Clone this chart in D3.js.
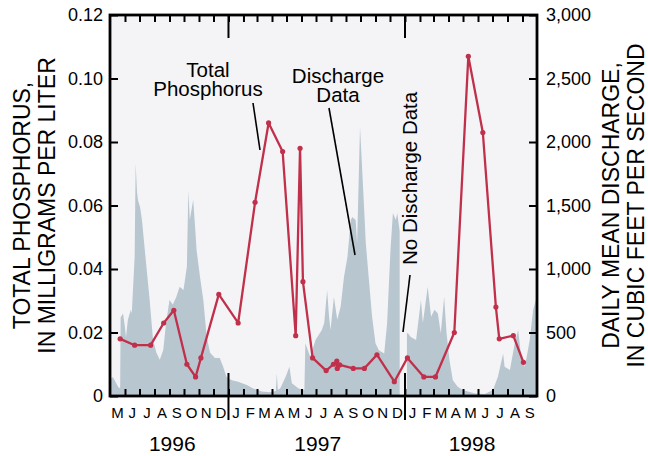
<!DOCTYPE html>
<html>
<head>
<meta charset="utf-8">
<script src="https://cdn.jsdelivr.net/npm/d3@7"></script>
<style>
  html, body { margin: 0; padding: 0; background: #ffffff; }
  svg { display: block; font-family: "Liberation Sans", Arial, Helvetica, sans-serif; }
</style>
</head>
<body>
<svg id="chart" width="648" height="456"></svg>
<script>
// ---- Data ---------------------------------------------------------------
// Daily mean discharge, cubic feet per second (null marks the data gap)
const dischargeDates = [
  "1996-05-01","1996-05-07","1996-05-18","1996-05-22","1996-05-23","1996-05-28","1996-06-01","1996-06-03",
  "1996-06-07","1996-06-13","1996-06-15","1996-06-21","1996-06-23","1996-06-26","1996-06-28","1996-07-02",
  "1996-07-06","1996-07-14","1996-07-22","1996-07-29","1996-08-05","1996-08-12","1996-08-19","1996-08-25",
  "1996-09-01","1996-09-08","1996-09-15","1996-09-22","1996-09-30","1996-10-07","1996-10-10","1996-10-13",
  "1996-10-20","1996-10-24","1996-10-27","1996-11-03","1996-11-10","1996-11-17","1996-11-24","1996-12-04",
  "1996-12-14","1996-12-21","1996-12-28","1997-01-08","1997-01-21","1997-02-08","1997-02-21","1997-03-11",
  "1997-03-28","1997-04-09","1997-04-11","1997-04-13","1997-04-18","1997-04-29","1997-05-07","1997-05-12",
  "1997-05-26","1997-06-07","1997-06-09","1997-06-19","1997-06-30","1997-07-13","1997-07-18","1997-07-24",
  "1997-07-28","1997-07-31","1997-08-07","1997-08-14","1997-08-21","1997-08-28","1997-09-04","1997-09-11",
  "1997-09-14","1997-09-21","1997-09-24","1997-09-30","1997-10-07","1997-10-12","1997-10-19","1997-10-25",
  "1997-11-01","1997-11-08","1997-11-19","1997-11-25","1997-12-02","1997-12-07","1997-12-13","1997-12-16",
  "1997-12-21","1997-12-22","1998-01-05","1998-01-07","1998-01-13","1998-01-24","1998-02-03","1998-02-07",
  "1998-02-17","1998-02-24","1998-03-03","1998-03-10","1998-03-16","1998-03-23","1998-03-28","1998-04-03",
  "1998-04-10","1998-04-20","1998-04-30","1998-05-26","1998-06-15","1998-07-02","1998-07-12","1998-07-23",
  "1998-07-26","1998-08-06","1998-08-16","1998-08-23","1998-08-30","1998-09-06","1998-09-16","1998-09-23",
  "1998-10-01"
];
const dischargeCfs = [
  130, 150, 70, 60, 620, 650, 540, 460,
  600, 680, 650, 1100, 1830, 1600, 1540, 1490,
  1390, 1070, 755, 440, 340, 285, 360, 575,
  755, 720, 780, 860, 835, 1020, 1620, 1385,
  1545, 1330, 1150, 940, 755, 465, 340, 300,
  300, 230, 150, 125, 113, 87, 60, 35,
  30, 40, 180, 50, 60, 150, 230, 100,
  60, 50, 415, 310, 440, 520, 575, 835,
  625, 520, 780, 600, 705, 940, 1095, 1385,
  1410, 1385, 1200, 2120, 1595, 1200, 890, 625,
  415, 360, 335, 570, 1150, 1440, 1385, 1440,
  1300, null, 495, 495, 465, 440, 755, 575,
  860, 625, 680, 650, 495, 780, 495, 283,
  125, 73, 47, 20, 15, 47, 150, 335,
  230, 205, 415, 520, 283, 230, 440, 680,
  790
];

// Total phosphorus, milligrams per liter
const tpDates = [
  "1996-05-22","1996-06-21","1996-07-24","1996-08-20","1996-09-10","1996-10-07","1996-10-25","1996-11-05",
  "1996-12-12","1997-01-21","1997-02-25","1997-03-25","1997-04-23","1997-05-20","1997-05-29","1997-06-04",
  "1997-06-24","1997-07-22","1997-08-06","1997-08-13","1997-08-14","1997-08-19","1997-09-16","1997-10-09",
  "1997-11-04","1997-12-10","1998-01-06","1998-02-09","1998-03-05","1998-04-13","1998-05-12","1998-06-11",
  "1998-07-08","1998-07-15","1998-08-13","1998-09-03"
];
const tpValues = [
  0.018, 0.016, 0.016, 0.023, 0.027, 0.010, 0.006, 0.012,
  0.032, 0.023, 0.061, 0.086, 0.077, 0.019, 0.078, 0.036,
  0.012, 0.008, 0.010, 0.011, 0.0087, 0.0098, 0.0087, 0.0087,
  0.013, 0.0045, 0.012, 0.006, 0.006, 0.020, 0.107, 0.083,
  0.028, 0.018, 0.019, 0.0106
];

const monthLabels = ["M","J","J","A","S","O","N","D",
  "J","F","M","A","M","J","J","A","S","O","N","D",
  "J","F","M","A","M","J","J","A","S"];
const yearLabels = ["1996","1997","1998"];
const tpTicks = [0, 0.02, 0.04, 0.06, 0.08, 0.10, 0.12];
const cfsTicks = [0, 500, 1000, 1500, 2000, 2500, 3000];

// ---- Layout -------------------------------------------------------------
const parse = d3.timeParse("%Y-%m-%d");
const svg = d3.select("#chart");
const L = 110, R = 537, T = 15, B = 396;
const red = "#c0304b";

const x = d3.scaleTime().domain([parse("1996-05-01"), parse("1998-10-01")]).range([L, R]);
const yTP = d3.scaleLinear().domain([0, 0.12]).range([B, T]);
const yQ = d3.scaleLinear().domain([0, 3000]).range([B, T]);

const discharge = dischargeDates.map((d, i) => ({ date: parse(d), v: dischargeCfs[i] }));
const tp = tpDates.map((d, i) => ({ date: parse(d), v: tpValues[i] }));

// plot background
svg.append("rect").attr("x", L).attr("y", T).attr("width", R - L).attr("height", B - T)
  .attr("fill", "#f4f4f7");

// discharge area
svg.append("path").datum(discharge)
  .attr("fill", "#b8c6d0")
  .attr("d", d3.area().defined(d => d.v !== null)
    .x(d => x(d.date)).y0(B).y1(d => yQ(d.v)));

// month boundaries and year boundaries
const monthStarts = d3.timeMonth.range(parse("1996-05-01"), parse("1998-10-01"));
const yearStarts = [parse("1997-01-01"), parse("1998-01-01")];

svg.append("g").attr("transform", `translate(0,${B})`)
  .call(d3.axisBottom(x).tickValues(monthStarts.slice(1)).tickSize(-7).tickFormat(""))
  .call(g => g.select(".domain").remove())
  .call(g => g.selectAll("line").attr("stroke", "#000").attr("stroke-width", 2));
svg.append("g").attr("transform", `translate(0,${T})`)
  .call(d3.axisTop(x).tickValues(monthStarts.slice(1)).tickSize(-7).tickFormat(""))
  .call(g => g.select(".domain").remove())
  .call(g => g.selectAll("line").attr("stroke", "#000").attr("stroke-width", 2));

// long year separators
svg.selectAll("line.yearBottom").data(yearStarts).join("line")
  .attr("x1", d => x(d)).attr("x2", d => x(d))
  .attr("y1", B - 23).attr("y2", B + 24)
  .attr("stroke", "#000").attr("stroke-width", 2);
svg.selectAll("line.yearTop").data(yearStarts).join("line")
  .attr("x1", d => x(d)).attr("x2", d => x(d))
  .attr("y1", T).attr("y2", T + 23)
  .attr("stroke", "#000").attr("stroke-width", 2);

// left axis: total phosphorus
svg.append("g").attr("transform", `translate(${L},0)`)
  .call(d3.axisLeft(yTP).tickValues(tpTicks).tickSize(-8).tickPadding(7)
    .tickFormat(d => d === 0 ? "0" : d3.format(".2f")(d)))
  .call(g => g.select(".domain").remove())
  .call(g => g.selectAll("line").attr("stroke", "#000").attr("stroke-width", 2))
  .call(g => g.selectAll("text").attr("font-size", 18).attr("fill", "#000")
    .attr("font-family", "Liberation Sans, Arial, sans-serif"));

// right axis: discharge
svg.append("g").attr("transform", `translate(${R},0)`)
  .call(d3.axisRight(yQ).tickValues(cfsTicks).tickSize(-8).tickPadding(9)
    .tickFormat(d3.format(",")))
  .call(g => g.select(".domain").remove())
  .call(g => g.selectAll("line").attr("stroke", "#000").attr("stroke-width", 2))
  .call(g => g.selectAll("text").attr("font-size", 18).attr("fill", "#000")
    .attr("font-family", "Liberation Sans, Arial, sans-serif"));

// phosphorus line and sample points
svg.append("path").datum(tp)
  .attr("fill", "none").attr("stroke", red).attr("stroke-width", 2.3)
  .attr("stroke-linejoin", "round")
  .attr("d", d3.line().x(d => x(d.date)).y(d => yTP(d.v)));
svg.selectAll("circle.tp").data(tp).join("circle")
  .attr("cx", d => x(d.date)).attr("cy", d => yTP(d.v)).attr("r", 2.6)
  .attr("fill", red);

// frame
svg.append("rect").attr("x", L).attr("y", T).attr("width", R - L).attr("height", B - T)
  .attr("fill", "none").attr("stroke", "#000").attr("stroke-width", 2.8);

// month initials, centred in each month
const monthMid = monthStarts.map(m => new Date((+m + +d3.timeMonth.offset(m, 1)) / 2));
svg.selectAll("text.month").data(monthLabels).join("text")
  .attr("x", (d, i) => x(monthMid[i])).attr("y", 418)
  .attr("text-anchor", "middle").attr("font-size", 15).text(d => d);

// year labels, centred on each year's span
const yearSpans = [
  [parse("1996-05-01"), parse("1997-01-01")],
  [parse("1997-01-01"), parse("1998-01-01")],
  [parse("1998-01-01"), parse("1998-10-01")]
];
svg.selectAll("text.year").data(yearLabels).join("text")
  .attr("x", (d, i) => (x(yearSpans[i][0]) + x(yearSpans[i][1])) / 2 + (i === 0 ? 3 : 1))
  .attr("y", 451).attr("text-anchor", "middle").attr("font-size", 21).text(d => d);

// axis titles
const leftTitle = svg.append("text").attr("text-anchor", "middle").attr("font-size", 23)
  .attr("transform", `translate(30,${(T + B) / 2}) rotate(-90)`);
leftTitle.append("tspan").attr("x", 0).attr("dy", 0).text("TOTAL PHOSPHORUS,");
leftTitle.append("tspan").attr("x", 0).attr("dy", 25).text("IN MILLIGRAMS PER LITER");

const rightTitle = svg.append("text").attr("text-anchor", "middle").attr("font-size", 23)
  .attr("transform", `translate(619,${(T + B) / 2}) rotate(-90)`);
rightTitle.append("tspan").attr("x", 0).attr("dy", 0).text("DAILY MEAN DISCHARGE,");
rightTitle.append("tspan").attr("x", 0).attr("dy", 25).text("IN CUBIC FEET PER SECOND");

// annotations
const note = (lines, cx, y0) => {
  const t = svg.append("text").attr("text-anchor", "middle").attr("font-size", 20.5);
  lines.forEach((s, i) => t.append("tspan").attr("x", cx).attr("y", y0 + i * 18.5).text(s));
};
note(["Total", "Phosphorus"], 208, 77);
note(["Discharge", "Data"], 338, 83);

svg.append("text").attr("font-size", 20.5)
  .attr("transform", "translate(417,265) rotate(-90)").text("No Discharge Data");

const leader = (x1, y1, x2, y2) => svg.append("line")
  .attr("x1", x1).attr("y1", y1).attr("x2", x2).attr("y2", y2)
  .attr("stroke", "#000").attr("stroke-width", 1.6);
leader(253, 103, 260, 150);
leader(329, 108, 355, 255);
leader(410, 275, 403, 332);
</script>
</body>
</html>
